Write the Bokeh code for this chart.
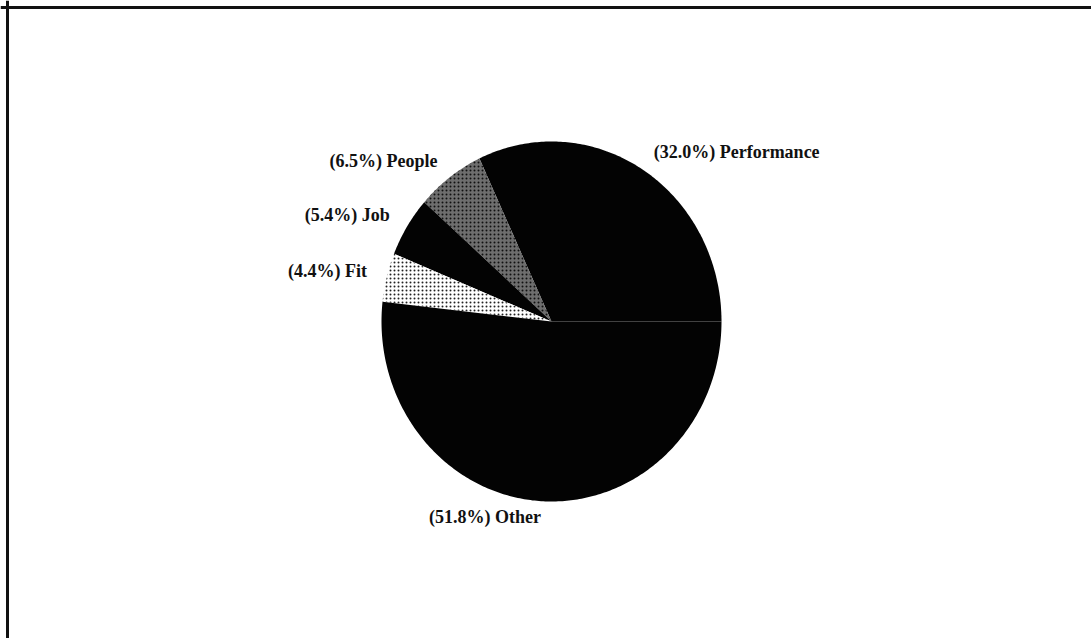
import numpy as np
from bokeh.plotting import figure
from bokeh.models import ColumnDataSource, Span
from bokeh.core.properties import value
from bokeh.embed import file_html
from bokeh.resources import INLINE

# Share of responses per category (percent), drawn counter-clockwise from 3 o'clock
categories = ["Performance", "People", "Job", "Fit", "Other"]
shares = [32.0, 6.5, 5.4, 4.4, 51.8]

# Slice appearance
fills = ["#030303", "#6e6e6e", "#030303", "#ffffff", "#030303"]
hatches = [" ", ".", " ", ".", " "]
hatch_colors = ["#000000", "#111111", "#000000", "#222222", "#000000"]
hatch_weights = [1.0, 1.6, 1.0, 1.8, 1.0]

W, H = 1091, 638
cx, cy = 551, 317          # pie centre (canvas units)
rx, ry = 170, 180          # pie radii

p = figure(width=W, height=H, x_range=(0, W), y_range=(0, H),
           output_backend="svg", toolbar_location=None, min_border=0)
p.axis.visible = False
p.grid.visible = False
p.outline_line_color = None
p.background_fill_color = "white"
p.border_fill_color = "white"

frac = np.array(shares) / np.sum(shares)
ends = np.cumsum(frac) * 2 * np.pi
starts = ends - frac * 2 * np.pi

xs, ys = [], []
for a0, a1 in zip(starts, ends):
    t = np.linspace(a0, a1, max(8, int((a1 - a0) * 80)))
    xs.append([cx] + list(cx + rx * np.cos(t)) + [cx])
    ys.append([cy] + list(cy + ry * np.sin(t)) + [cy])

src = ColumnDataSource(dict(xs=xs, ys=ys, fill=fills, hatch=hatches,
                            hc=hatch_colors, hw=hatch_weights))
p.patches("xs", "ys", source=src, fill_color="fill", line_color=None,
          hatch_pattern="hatch", hatch_color="hc", hatch_scale=4, hatch_weight="hw")

# Labels placed just outside each slice's middle angle
mids = (starts + ends) / 2
lx = cx + 1.12 * rx * np.cos(mids)
ly = cy + 1.1 * ry * np.sin(mids) + 2
labels = [f"({s:.1f}%) {c}" for s, c in zip(shares, categories)]
align = ["left" if np.cos(m) >= 0 else "right" for m in mids]
lsrc = ColumnDataSource(dict(x=lx, y=ly, t=labels, a=align))
p.text("x", "y", text="t", source=lsrc, text_align="a", text_baseline="middle",
       text_font=value("Liberation Serif"), text_font_style="bold",
       text_font_size="18px", text_color="#111111")

# Frame lines along the top and left edges
p.add_layout(Span(location=H - 7, dimension="width", line_color="#111111", line_width=3))
p.add_layout(Span(location=7, dimension="height", line_color="#111111", line_width=3))

open("out.html", "w").write(file_html(p, INLINE))
